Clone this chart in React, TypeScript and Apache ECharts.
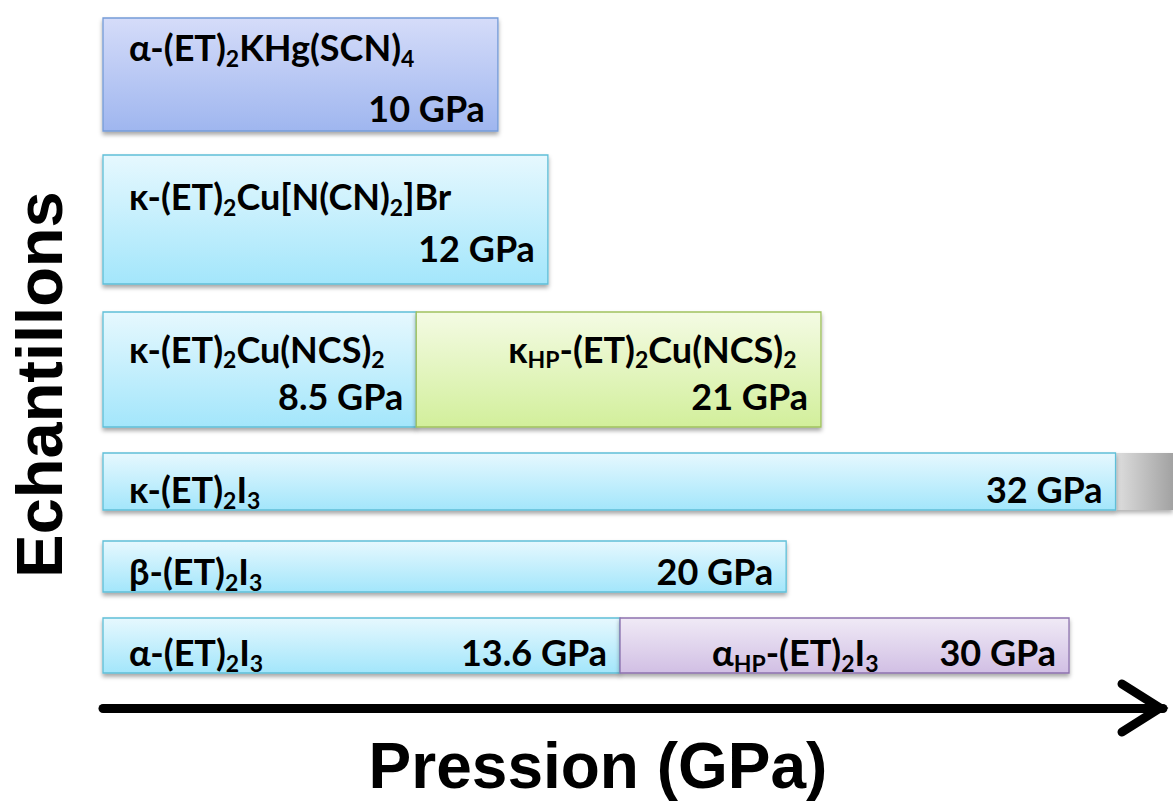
import React, { useEffect, useRef } from "react";
import * as echarts from "echarts";

// ---- Data ----
// Each segment = one phase of a sample; row = sample (top to bottom)
const segmentRow = [0, 1, 2, 2, 3, 4, 5, 5];
const phaseNames = [
  "α-(ET)_{2}KHg(SCN)_{4}",
  "κ-(ET)_{2}Cu[N(CN)_{2}]Br",
  "κ-(ET)_{2}Cu(NCS)_{2}",
  "κ_{HP}-(ET)_{2}Cu(NCS)_{2}",
  "κ-(ET)_{2}I_{3}",
  "β-(ET)_{2}I_{3}",
  "α-(ET)_{2}I_{3}",
  "α_{HP}-(ET)_{2}I_{3}",
];
// Maximum pressure reached for each phase (GPa), as written
const pressureValues = ["10", "12", "8.5", "21", "32", "20", "13.6", "30"];
// Schematic extent of each segment along the pressure arrow
const segmentStart = [0, 0, 0, 9.9, 0, 0, 0, 16.34];
const segmentEnd = [12.48, 14.06, 9.9, 22.69, 32, 21.59, 16.34, 30.53];
const phaseKind = ["blue", "cyan", "cyan", "green", "cyan", "cyan", "cyan", "purple"];
const openEnded = [false, false, false, false, true, false, false, false];

// ---- Layout (sample bands on the vertical schematic axis) ----
const rowTop = [0, 13.7, 29.4, 43.5, 52.3, 60.0];
const rowBottom = [11.3, 26.6, 40.9, 49.2, 57.4, 65.5];
const nameFrac = [0.26, 0.32, 0.32];
const pressFrac = [0.8, 0.72, 0.73];

const FONT = "Lato, 'Open Sans', 'DejaVu Sans', sans-serif";
const TITLE_FONT = "'Liberation Sans', Arial, sans-serif";

const palette: Record<string, { top: string; bottom: string; stroke: string }> = {
  blue: { top: "#d5dcf9", bottom: "#9fb6ef", stroke: "#759cd8" },
  cyan: { top: "#e6f8fe", bottom: "#a3e6fb", stroke: "#5fbfd8" },
  green: { top: "#f4fbe4", bottom: "#d2ef9b", stroke: "#a0c25f" },
  purple: { top: "#f0eaf6", bottom: "#d1bfe4", stroke: "#8d72ae" },
};

function toRich(s: string) {
  const parts = s.split(/_\{([^}]*)\}/);
  return parts
    .map((p, i) => (p === "" ? "" : i % 2 ? `{s|${p}}` : `{n|${p}}`))
    .join("");
}

const rich = {
  n: { fontSize: 36, fontWeight: "bold", fontFamily: FONT, fill: "#000", lineHeight: 44 },
  s: { fontSize: 23, fontWeight: "bold", fontFamily: FONT, fill: "#000", lineHeight: 23, verticalAlign: "bottom" },
};

export default function App() {
  const ref = useRef<HTMLDivElement>(null);
  useEffect(() => {
    if (!ref.current) return;
    const chart = echarts.init(ref.current, undefined, { renderer: "svg" });
    const data = segmentStart.map((s, i) => [s, segmentEnd[i], (rowTop[segmentRow[i]] + rowBottom[segmentRow[i]]) / 2]);
    const firstInRow = segmentRow.map((r, i) => segmentRow.indexOf(r) === i);

    chart.setOption({
      animation: false,
      grid: { left: 103, right: 10, top: 18, bottom: 129, containLabel: false, outerBoundsMode: "none" },
      xAxis: {
        type: "value",
        min: 0,
        max: 33.5,
        offset: 35,
        axisLine: { show: true, onZero: false, lineStyle: { color: "#000", width: 9 } },
        axisTick: { show: false },
        axisLabel: { show: false },
        splitLine: { show: false },
        name: "Pression (GPa)",
        nameLocation: "middle",
        nameGap: 31,
        nameTextStyle: {
          fontFamily: TITLE_FONT,
          fontWeight: "bold",
          fontSize: 64,
          lineHeight: 54,
          color: "#000",
          padding: [0, 70, 0, 0],
        },
      },
      yAxis: {
        type: "value",
        inverse: true,
        min: 0,
        max: 65.5,
        axisLine: { show: false },
        axisTick: { show: false },
        axisLabel: { show: false },
        splitLine: { show: false },
        name: "Echantillons",
        nameLocation: "middle",
        nameGap: 31,
        nameRotate: 90,
        nameTextStyle: {
          fontFamily: TITLE_FONT,
          fontWeight: "bold",
          fontSize: 65,
          color: "#000",
          padding: [0, 78, 0, 0],
        },
      },
      graphic: [
        {
          type: "polyline",
          shape: { points: [[1122, 684], [1160, 708], [1122, 732]] },
          style: { stroke: "#000", lineWidth: 9, fill: null, lineCap: "round", lineJoin: "miter" },
          z: 10,
        },
      ],
      series: [
        {
          type: "custom",
          data,
          encode: { x: [0, 1], y: 2 },
          clip: false,
          renderItem: (params: any, api: any) => {
            const i = params.dataIndex;
            const r = segmentRow[i];
            const a = api.coord([segmentStart[i], rowTop[r]]);
            const b = api.coord([segmentEnd[i], rowBottom[r]]);
            const x = a[0];
            const y = a[1];
            const w = b[0] - a[0];
            const h = b[1] - a[1];
            const c = palette[phaseKind[i]];
            const children: any[] = [];
            if (openEnded[i]) {
              children.push({
                type: "rect",
                shape: { x: b[0], y: y, width: api.getWidth() - b[0], height: h },
                style: {
                  fill: new echarts.graphic.LinearGradient(0, 0, 1, 0, [
                    { offset: 0, color: "#dedede" },
                    { offset: 1, color: "#a2a2a2" },
                  ]),
                  shadowBlur: 4,
                  shadowOffsetY: 3,
                  shadowColor: "rgba(0,0,0,0.3)",
                },
              });
            }
            children.push({
              type: "rect",
              shape: { x, y, width: w, height: h },
              style: {
                fill: new echarts.graphic.LinearGradient(0, 0, 0, 1, [
                  { offset: 0, color: c.top },
                  { offset: 1, color: c.bottom },
                ]),
                stroke: c.stroke,
                lineWidth: 1.3,
                shadowBlur: 4,
                shadowOffsetY: 3,
                shadowColor: "rgba(0,0,0,0.35)",
              },
            });
            const twoLine = r < nameFrac.length;
            const nameY = twoLine ? y + h * nameFrac[r] : y + h - 21;
            const pressY = twoLine ? y + h * pressFrac[r] : y + h - 21;
            const nameX = firstInRow[i] ? x + 26 : x + 92;
            children.push({
              type: "text",
              x: nameX,
              y: nameY,
              style: { text: toRich(phaseNames[i]), rich, align: "left", verticalAlign: "middle" },
            });
            children.push({
              type: "text",
              x: b[0] - 13,
              y: pressY,
              style: {
                text: `${pressureValues[i]} GPa`,
                fontSize: 36,
                lineHeight: 36,
                fontWeight: "bold",
                fontFamily: FONT,
                fill: "#000",
                align: "right",
                verticalAlign: "middle",
              },
            });
            return { type: "group", children };
          },
        },
      ],
    });
    return () => chart.dispose();
  }, []);
  return (
    <div
      ref={ref}
      style={{ position: "absolute", left: 0, top: 0, width: 1173, height: 802, background: "#fff" }}
    />
  );
}
